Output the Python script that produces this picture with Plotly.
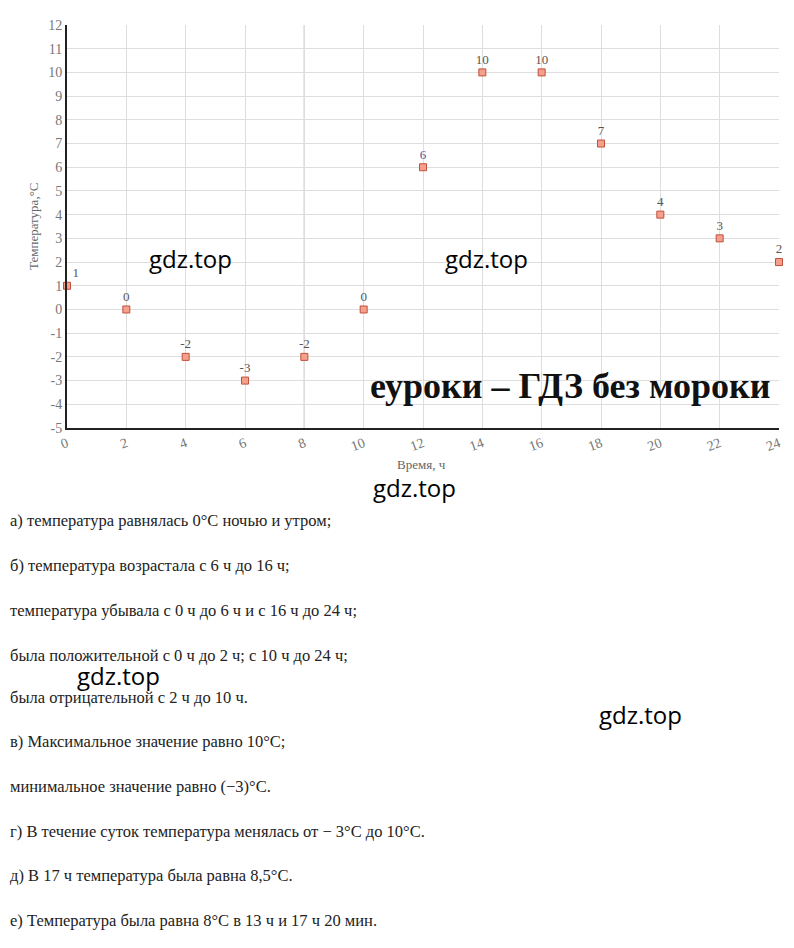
import plotly.graph_objects as go

hours = [0, 2, 4, 6, 8, 10, 12, 14, 16, 18, 20, 22, 24]
temps = [1, 0, -2, -3, -2, 0, 6, 10, 10, 7, 4, 3, 2]
label_colors = ["#555555"] * 6 + ["#4a5a9a"] + ["#555555"] * 6
label_pos = ["top right"] + ["top center"] * 12

x_ticks = list(range(0, 25, 2))
y_ticks = list(range(-5, 13))

answer_lines = [
    "а) температура равнялась 0°С ночью и утром;",
    "б) температура возрастала с 6 ч до 16 ч;",
    "температура убывала с 0 ч до 6 ч и с 16 ч до 24 ч;",
    "была положительной с 0 ч до 2 ч; с 10 ч до 24 ч;",
    "была отрицательной с 2 ч до 10 ч.",
    "в) Максимальное значение равно 10°С;",
    "минимальное значение равно (−3)°С.",
    "г) В течение суток температура менялась от − 3°С до 10°С.",
    "д) В 17 ч температура была равна 8,5°С.",
    "е) Температура была равна 8°С в 13 ч и 17 ч 20 мин.",
]
line_y_px = [520, 565, 610, 655, 697, 741, 786, 831, 876, 920]

watermarks = [(190, 258), (486, 258), (414, 487), (118, 675), (640, 714)]

W, H = 794, 948
L, R, T, B = 67, 779, 25, 428


def px(xp):
    return (xp - L) / (R - L)


def py(yp):
    return (B - yp) / (B - T)


fig = go.Figure()
fig.add_trace(go.Scatter(
    x=hours, y=temps, mode="markers+text",
    text=[str(t) for t in temps],
    textposition=label_pos,
    textfont=dict(family="Liberation Serif", size=13, color=label_colors),
    marker=dict(symbol="square", size=7, color="#f5a08c",
                line=dict(color="#c0503a", width=1)),
    cliponaxis=False,
    showlegend=False,
))

fig.add_shape(type="line", x0=8, x1=8, y0=-5, y1=12, xref="x", yref="y",
              line=dict(color="#777777", width=1), layer="below")

annotations = []
annotations.append(dict(text="Температура,°С", xref="paper", yref="paper",
                        x=px(33), y=py(226), textangle=-90, showarrow=False,
                        xanchor="center", yanchor="middle",
                        font=dict(family="Liberation Serif", size=13, color="#666666")))
annotations.append(dict(text="Время, ч", xref="paper", yref="paper",
                        x=px(421), y=py(464), showarrow=False,
                        xanchor="center", yanchor="middle",
                        font=dict(family="Liberation Serif", size=13, color="#666666")))

for txt, yp in zip(answer_lines, line_y_px):
    annotations.append(dict(text=txt, xref="paper", yref="paper",
                            x=px(8), y=py(yp), xanchor="left", yanchor="middle",
                            showarrow=False,
                            font=dict(family="Liberation Serif", size=16.5, color="#222222")))

for (wx, wy) in watermarks:
    annotations.append(dict(text="gdz.top", xref="paper", yref="paper",
                            x=px(wx), y=py(wy), showarrow=False,
                            xanchor="center", yanchor="middle",
                            font=dict(family="Open Sans", size=24, color="#000000")))

annotations.append(dict(text="<b>еуроки – ГДЗ без мороки</b>", xref="paper", yref="paper",
                        x=px(570), y=py(386), showarrow=False,
                        xanchor="center", yanchor="middle",
                        font=dict(family="Liberation Serif", size=36, color="#111111")))

fig.update_layout(
    width=W, height=H,
    margin=dict(l=L, r=W - R, t=T, b=H - B),
    paper_bgcolor="white", plot_bgcolor="white",
    annotations=annotations,
    xaxis=dict(range=[0, 24], tickvals=x_ticks, ticktext=[str(v) for v in x_ticks],
               tickangle=-20, showgrid=True, gridcolor="#dedede", gridwidth=1,
               zeroline=False, showline=True, linecolor="#222222", linewidth=2,
               ticks="", tickfont=dict(family="Liberation Serif", size=14, color="#777777"),
               fixedrange=True),
    yaxis=dict(range=[-5, 12], tickvals=y_ticks, ticktext=[str(v) for v in y_ticks],
               showgrid=True, gridcolor="#dedede", gridwidth=1,
               zeroline=False, showline=True, linecolor="#222222", linewidth=2,
               ticks="", tickfont=dict(family="Liberation Serif", size=14, color="#777777"),
               fixedrange=True),
)

fig.write_html("out.html")
